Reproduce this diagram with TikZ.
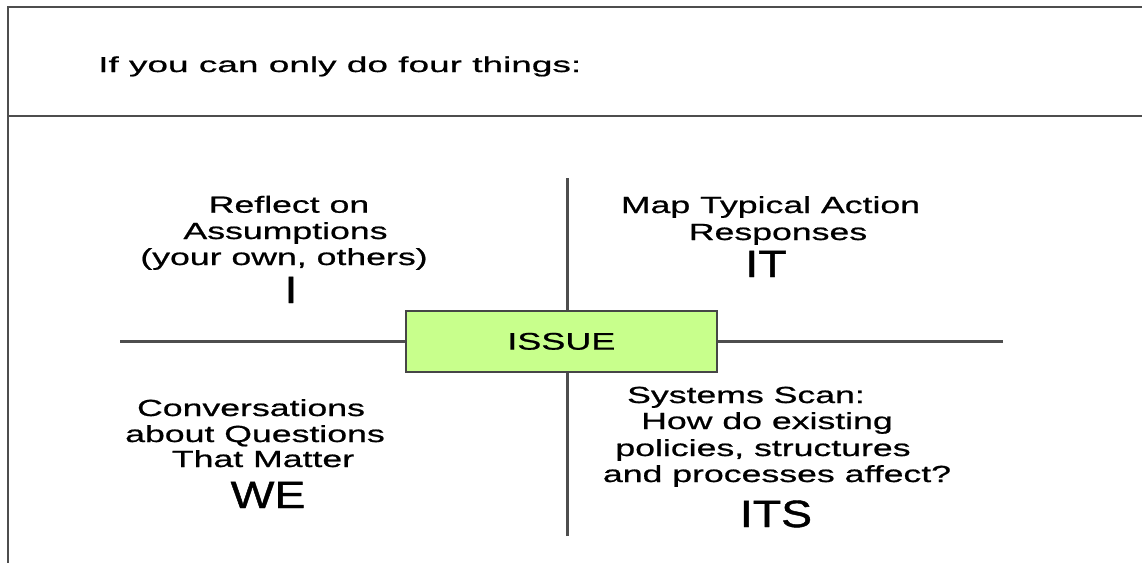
\documentclass[tikz,border=0pt]{standalone}
\usepackage{fontspec}
\setmainfont{Liberation Sans}
% wide sans faces used throughout the chart
\newfontfamily\titlefont[FakeStretch=1.72,FakeBold=0.8]{Liberation Sans}
\newfontfamily\quadfont[FakeStretch=1.53,FakeBold=0.8]{Liberation Sans}
\newfontfamily\labelfont[FakeStretch=1.22,FakeBold=1.2]{Liberation Sans}
\newfontfamily\issuefont[FakeStretch=1.5,FakeBold=0.8]{Liberation Sans}
\definecolor{rulegray}{RGB}{78,78,78}
\definecolor{boxedge}{RGB}{70,70,70}
\definecolor{issuegreen}{RGB}{200,255,140}
\tikzset{
  framerule/.style={draw=rulegray, line width=2.3pt},
  axisrule/.style={draw=rulegray, line width=2.8pt},
  quadline/.style={anchor=base, inner sep=0pt, text=black,
    font=\quadfont\fontsize{23.3pt}{26pt}\selectfont},
  quadlabel/.style={anchor=base, inner sep=0pt, text=black,
    font=\labelfont\fontsize{38pt}{40pt}\selectfont},
  issuebox/.style={draw=boxedge, line width=1.4pt, fill=issuegreen,
    minimum width=311pt, minimum height=61pt, inner sep=0pt,
    font=\issuefont\fontsize{24pt}{26pt}\selectfont},
}
\begin{document}
\begin{tikzpicture}[x=1pt, y=-1pt]
  \useasboundingbox (0,0) rectangle (1142,563);
  \fill[white] (0,0) rectangle (1142,563);

  % header frame
  \coordinate (frameTL) at (8,7);
  \coordinate (frameTR) at (1142,7);
  \coordinate (frameBL) at (8,563);
  \coordinate (headL) at (8,116);
  \coordinate (headR) at (1142,116);
  \draw[framerule] (frameTR) -- (frameTL) -- (frameBL);
  \draw[framerule] (headL) -- (headR);

  \node[anchor=base west, inner sep=0pt,
        font=\titlefont\fontsize{21.5pt}{24pt}\selectfont]
    (title) at (98,72) {If you can only do four things:};

  % central issue box and the two axes
  \coordinate (axisTop) at (567.7,178);
  \coordinate (axisBot) at (567.7,536);
  \coordinate (axisL) at (120,341.7);
  \coordinate (axisR) at (1003,341.7);
  \node[issuebox] (issue) at (561.35,341.35) {ISSUE};
  \draw[axisrule] (axisTop) -- (axisTop |- issue.north);
  \draw[axisrule] (axisBot) -- (axisBot |- issue.south);
  \draw[axisrule] (axisL) -- (axisL -| issue.west);
  \draw[axisrule] (axisR) -- (axisR -| issue.east);

  % upper left quadrant
  \node[quadline] (i1) at (289,212.7) {Reflect on};
  \node[quadline] (i2) at (285.5,239) {Assumptions};
  \node[quadline] (i3) at (284,265) {(your own, others)};
  \node[quadlabel] (iL) at (291,303) {I};

  % upper right quadrant
  \node[quadline] (it1) at (770.5,213) {Map Typical Action};
  \node[quadline] (it2) at (778,240) {Responses};
  \node[quadlabel] (itL) at (766,277) {IT};

  % lower left quadrant
  \node[quadline] (we1) at (251,416) {Conversations};
  \node[quadline] (we2) at (255,442) {about Questions};
  \node[quadline] (we3) at (263,467) {That Matter};
  \node[quadlabel] (weL) at (268,508) {WE};

  % lower right quadrant
  \node[quadline] (its1) at (746,403) {Systems Scan:};
  \node[quadline] (its2) at (767,429) {How do existing};
  \node[quadline] (its3) at (763,456) {policies, structures};
  \node[quadline] (its4) at (777,482) {and processes affect?};
  \node[quadlabel] (itsL) at (776,527) {ITS};
\end{tikzpicture}
\end{document}
